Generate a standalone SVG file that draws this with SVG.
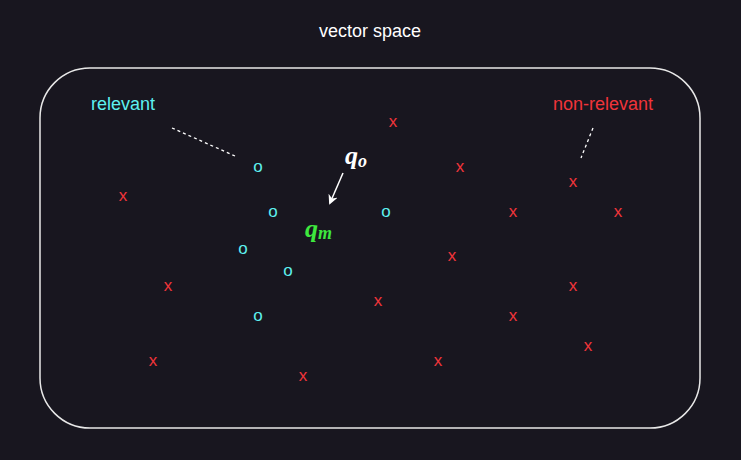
<svg xmlns="http://www.w3.org/2000/svg" width="741" height="460" viewBox="0 0 741 460">
<defs>
<style>
.lbl{font-family:"Liberation Sans",Arial,sans-serif;font-size:18px;}
.x{font-family:"Liberation Sans",Arial,sans-serif;font-size:17px;fill:#f0343a;text-anchor:middle;}
.o{font-family:"Liberation Sans",Arial,sans-serif;font-size:17px;fill:#5ef0f0;text-anchor:middle;}
.math{font-family:"Liberation Serif","Times New Roman",serif;font-style:italic;font-weight:bold;}
.dash{stroke:#ffffff;stroke-width:1.3;stroke-dasharray:3 3;fill:none;}
</style>
<marker id="ah" markerWidth="10" markerHeight="10" refX="8" refY="5" orient="auto" markerUnits="userSpaceOnUse">
<path d="M0,0 L10,5 L0,10 L3,5 Z" fill="#ffffff"/>
</marker>
</defs>
<rect width="741" height="460" fill="#18161f"/>
<text class="lbl" x="370" y="37" fill="#ffffff" text-anchor="middle">vector space</text>
<g id="space">
<rect x="40" y="68" width="660" height="360" rx="50" ry="50" fill="none" stroke="#e8e8e8" stroke-width="1.5"/>
</g>
<g id="relevant-label">
<text class="lbl" x="123" y="110" fill="#5ef0f0" text-anchor="middle">relevant</text>
</g>
<g id="nonrelevant-label">
<text class="lbl" x="603" y="110" fill="#f0343a" text-anchor="middle">non-relevant</text>
</g>
<g id="connectors">
<line class="dash" x1="172" y1="128" x2="235" y2="156"/>
<line class="dash" x1="593" y1="128" x2="581" y2="158"/>
<line x1="343" y1="173" x2="330" y2="203" stroke="#ffffff" stroke-width="1.5" marker-end="url(#ah)"/>
</g>
<g id="qo">
<text class="math" x="345" y="164" fill="#ffffff" font-size="26">q<tspan font-size="18" dy="3">o</tspan></text>
</g>
<g id="qm">
<text class="math" x="305" y="237" fill="#3ee83e" font-size="26">q<tspan font-size="18" dy="2">m</tspan></text>
</g>
<g id="relevant-points">
<text class="o" x="258" y="172">o</text>
<text class="o" x="273" y="217">o</text>
<text class="o" x="386" y="217">o</text>
<text class="o" x="243" y="254">o</text>
<text class="o" x="288" y="276">o</text>
<text class="o" x="258" y="321">o</text>
</g>
<g id="nonrelevant-points">
<text class="x" x="393" y="127">x</text>
<text class="x" x="460" y="172">x</text>
<text class="x" x="123" y="201">x</text>
<text class="x" x="513" y="217">x</text>
<text class="x" x="573" y="187">x</text>
<text class="x" x="618" y="217">x</text>
<text class="x" x="452" y="261">x</text>
<text class="x" x="168" y="291">x</text>
<text class="x" x="378" y="306">x</text>
<text class="x" x="573" y="291">x</text>
<text class="x" x="513" y="321">x</text>
<text class="x" x="588" y="351">x</text>
<text class="x" x="438" y="366">x</text>
<text class="x" x="153" y="366">x</text>
<text class="x" x="303" y="381">x</text>
</g>
</svg>
